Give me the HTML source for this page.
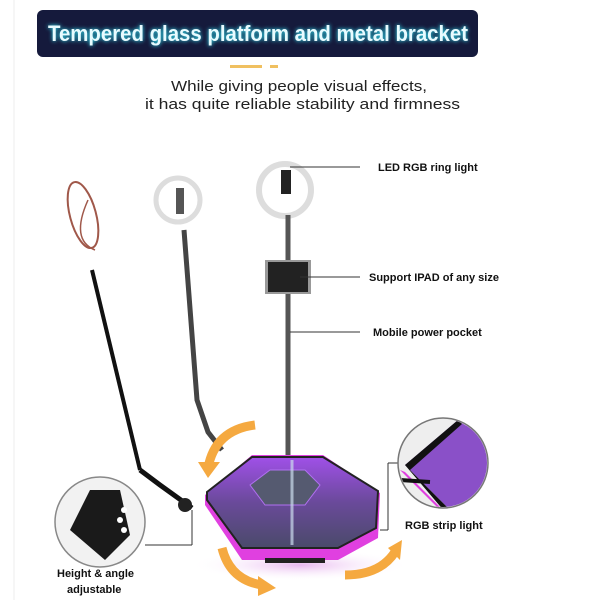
<!DOCTYPE html>
<html><head><style>
html,body{margin:0;padding:0;background:#fff;}
svg{display:block;}
text{font-family:"Liberation Sans",sans-serif;}
</style></head><body>
<svg width="600" height="600" viewBox="0 0 600 600" xmlns="http://www.w3.org/2000/svg">
<defs>
<linearGradient id="pg" x1="0" y1="0" x2="0" y2="1">
<stop offset="0" stop-color="#a050e8"/><stop offset="0.5" stop-color="#6a4a9a"/><stop offset="1" stop-color="#4a4a6a"/>
</linearGradient>
<radialGradient id="sh" cx="0.5" cy="0.5" r="0.5">
<stop offset="0" stop-color="#e8b8f0"/><stop offset="1" stop-color="#fff" stop-opacity="0"/>
</radialGradient>
</defs>
<rect width="600" height="600" fill="#fff"/>
<line x1="14" y1="0" x2="14" y2="600" stroke="#eee" stroke-width="1"/>
<!-- banner -->
<rect x="37" y="10" width="441" height="47" rx="6" fill="#151a3c"/>
<text x="48" y="41" textLength="420" lengthAdjust="spacingAndGlyphs" font-size="22" font-weight="bold" fill="#e8fbff" style="filter:drop-shadow(0 0 2px #3ef)">Tempered glass platform and metal bracket</text>
<rect x="230" y="65" width="32" height="3" fill="#f0c060"/>
<rect x="270" y="65" width="8" height="3" fill="#f0c060"/>
<text x="171" y="91" textLength="256" lengthAdjust="spacingAndGlyphs" font-size="15" fill="#222">While giving people visual effects,</text>
<text x="145" y="109" textLength="315" lengthAdjust="spacingAndGlyphs" font-size="15" fill="#222">it has quite reliable stability and firmness</text>

<ellipse cx="300" cy="565" rx="110" ry="16" fill="url(#sh)"/>

<!-- left pole -->
<ellipse cx="83" cy="215" rx="13" ry="34" fill="none" stroke="#a0584a" stroke-width="2" transform="rotate(-15 83 215)"/>
<path d="M88 200 Q70 240 95 250" fill="none" stroke="#a0584a" stroke-width="1.5"/>
<line x1="92" y1="270" x2="140" y2="470" stroke="#111" stroke-width="4"/>
<path d="M140 470 L160 485 L192 508" fill="none" stroke="#111" stroke-width="5"/>
<!-- middle pole -->
<circle cx="178" cy="200" r="22" fill="none" stroke="#ddd" stroke-width="5"/>
<rect x="176" y="188" width="8" height="26" fill="#555"/>
<path d="M184 230 L197 400 L208 432 L222 450" fill="none" stroke="#444" stroke-width="5"/>
<!-- right pole -->
<circle cx="285" cy="190" r="26" fill="none" stroke="#ddd" stroke-width="6"/>
<rect x="281" y="170" width="10" height="24" fill="#222"/>
<line x1="288" y1="215" x2="288" y2="455" stroke="#555" stroke-width="5"/>
<rect x="265" y="260" width="46" height="34" fill="#999"/>
<rect x="268" y="262" width="40" height="30" fill="#222"/>
<line x1="290" y1="167" x2="360" y2="167" stroke="#333"/>
<line x1="300" y1="277" x2="360" y2="277" stroke="#333"/>
<line x1="290" y1="332" x2="360" y2="332" stroke="#333"/>
<text x="378" y="171" font-size="11" font-weight="bold" fill="#111">LED RGB ring light</text>
<text x="369" y="281" font-size="11" font-weight="bold" fill="#111">Support  IPAD of any size</text>
<text x="373" y="336" font-size="11" font-weight="bold" fill="#111">Mobile power pocket</text>

<!-- orange arrows -->
<path d="M255 425 Q215 430 208 468" fill="none" stroke="#f5a940" stroke-width="9"/>
<polygon points="198,462 220,462 208,478" fill="#f5a940"/>
<path d="M222 548 Q230 580 262 585" fill="none" stroke="#f5a940" stroke-width="9"/>
<polygon points="258,576 276,588 258,596" fill="#f5a940"/>
<path d="M345 575 Q380 575 395 552" fill="none" stroke="#f5a940" stroke-width="9"/>
<polygon points="388,548 402,540 400,560" fill="#f5a940"/>

<!-- platform -->
<polygon points="205,495 252,455 323,455 380,493 378,538 338,560 242,560 205,505" fill="#e040e0"/>
<polygon points="207,492 252,457 323,457 378,491 376,528 338,548 242,548 207,500" fill="url(#pg)" stroke="#222" stroke-width="2"/>
<polygon points="250,485 270,470 305,470 320,485 305,505 265,505" fill="#555a70" stroke="#b070f0"/>
<line x1="292" y1="460" x2="292" y2="545" stroke="#cde" stroke-width="3" opacity="0.7"/>
<rect x="265" y="558" width="60" height="5" fill="#222"/>

<!-- right circle -->
<line x1="380" y1="530" x2="388" y2="530" stroke="#333"/>
<line x1="388" y1="530" x2="388" y2="463" stroke="#333"/>
<line x1="388" y1="463" x2="398" y2="463" stroke="#333"/>
<circle cx="443" cy="463" r="45" fill="#eee" stroke="#777" stroke-width="1.5"/>
<clipPath id="cc"><circle cx="443" cy="463" r="44"/></clipPath>
<g clip-path="url(#cc)">
<polygon points="405,465 458,420 500,420 500,510 450,510" fill="#8a50c8"/>
<polygon points="405,465 458,420 462,424 410,470 450,510 445,512" fill="#111"/>
<polygon points="400,470 440,510 445,512 405,472" fill="#e040e0"/>
<line x1="400" y1="480" x2="430" y2="482" stroke="#111" stroke-width="4"/>
</g>
<text x="405" y="529" font-size="11" font-weight="bold" fill="#111">RGB strip light</text>

<!-- left circle -->
<line x1="192" y1="510" x2="192" y2="545" stroke="#333"/>
<line x1="192" y1="545" x2="145" y2="545" stroke="#333"/>
<circle cx="100" cy="522" r="45" fill="#f2f2f2" stroke="#888" stroke-width="1.5"/>
<path d="M70 530 L90 490 L120 490 L130 535 L105 560 Z" fill="#1a1a1a"/>
<circle cx="120" cy="520" r="3" fill="#fff"/><circle cx="124" cy="510" r="3" fill="#fff"/><circle cx="124" cy="530" r="3" fill="#fff"/>
<circle cx="185" cy="505" r="7" fill="#222"/>
<text x="57" y="577" font-size="11" font-weight="bold" fill="#111">Height &amp; angle</text>
<text x="67" y="593" font-size="11" font-weight="bold" fill="#111">adjustable</text>
</svg>
</body></html>
